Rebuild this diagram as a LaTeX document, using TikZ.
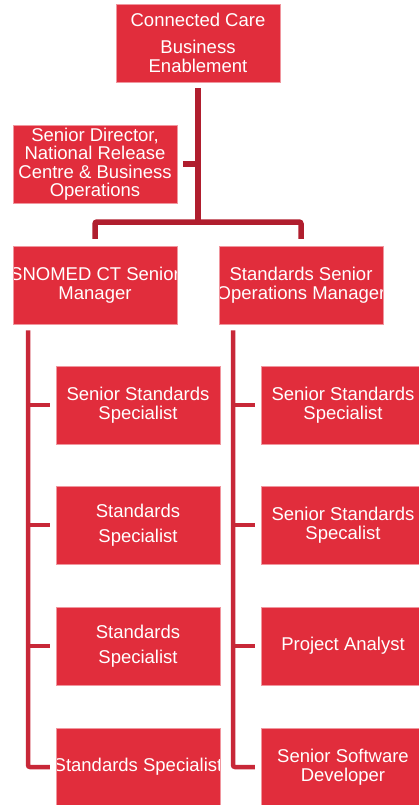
\documentclass[tikz,border=0pt]{standalone}
\usepackage{fontspec}
\setmainfont{Liberation Sans}
\definecolor{boxred}{RGB}{225,45,60}
\definecolor{edgered}{RGB}{240,150,158}
\definecolor{conndark}{RGB}{176,30,46}
\definecolor{connmid}{RGB}{200,40,56}
\begin{document}
\begin{tikzpicture}[x=1pt,y=-1pt,
  box/.style={rectangle, fill=boxred, draw=edgered, line width=0.5pt,
    minimum width=164pt, minimum height=78pt, inner sep=0pt,
    text=white, align=center, font=\fontsize{18.5}{18.5}\selectfont},
  clipbox/.style={box, path picture={\node[text=white, align=center,
    font=\fontsize{18.5}{18.5}\selectfont, inner sep=0pt]
    at (path picture bounding box.center) {#1};}},
  conntop/.style={draw=conndark, line width=5.5pt},
  connlow/.style={draw=connmid, line width=4.5pt}]
\useasboundingbox (0,0) rectangle (418,805);
% boxes
\node[box] (top) at (198,43) {Connected Care\\[8.5pt]Business\\Enablement};
\node[box] (dir) at (95,164) {Senior Director,\\National Release\\Centre \& Business\\Operations};
\node[clipbox={SNOMED CT Senior\\Manager}] (snomed) at (95,285) {};
\node[clipbox={Standards Senior\\Operations Manager}] (ops) at (301,285) {};
\node[box] (L1) at (138,405) {Senior Standards\\Specialist};
\node[box] (L2) at (138,525) {Standards\\[6.5pt]Specialist};
\node[box] (L3) at (138,646) {Standards\\[6.5pt]Specialist};
\node[clipbox={Standards Specialist}] (L4) at (138,767) {};
\node[box] (R1) at (343,405) {Senior Standards\\Specialist};
\node[box] (R2) at (343,525) {Senior Standards\\Specalist};
\node[box] (R3) at (343,646) {Project Analyst};
\node[box] (R4) at (343,767) {Senior Software\\Developer};
% junctions
\coordinate (j1) at (198,222);
\coordinate (lv) at (28,0);
\coordinate (rv) at (233,0);
% top connectors
\draw[conntop] ([yshift=-6pt]top.south) -- (j1);
\draw[conntop] ([xshift=6pt]dir.east) -- (dir.east -| j1);
\draw[conntop, rounded corners=2pt] ([yshift=7pt]snomed.north) -- (snomed.north |- j1) -- (ops.north |- j1) -- ([yshift=7pt]ops.north);
% left column
\draw[connlow, rounded corners=2pt] ([yshift=-6pt]snomed.south -| lv) |- ([xshift=-6pt]L4.west);
\draw[connlow] (L1.west -| lv) -- ([xshift=-6pt]L1.west);
\draw[connlow] (L2.west -| lv) -- ([xshift=-6pt]L2.west);
\draw[connlow] (L3.west -| lv) -- ([xshift=-6pt]L3.west);
% right column
\draw[connlow, rounded corners=2pt] ([yshift=-6pt]ops.south -| rv) |- ([xshift=-6pt]R4.west);
\draw[connlow] (R1.west -| rv) -- ([xshift=-6pt]R1.west);
\draw[connlow] (R2.west -| rv) -- ([xshift=-6pt]R2.west);
\draw[connlow] (R3.west -| rv) -- ([xshift=-6pt]R3.west);
\end{tikzpicture}
\end{document}
